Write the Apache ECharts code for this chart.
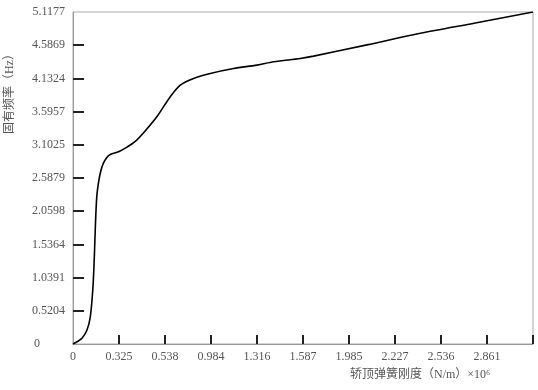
<!DOCTYPE html>
<html>
<head>
<meta charset="utf-8">
<script src="https://cdn.jsdelivr.net/npm/echarts@6/dist/echarts.min.js"></script>
<style>
html,body{margin:0;padding:0;background:#fff;}
#chart{width:538px;height:390px;}
</style>
</head>
<body>
<div id="chart"></div>
<script>
// Tick labels (axes are evenly spaced positions 0..10 with these labels)
var xTickLabels = ['0', '0.325', '0.538', '0.984', '1.316', '1.587', '1.985', '2.227', '2.536', '2.861'];
var yTickLabels = ['0', '0.5204', '1.0391', '1.5364', '2.0598', '2.5879', '3.1025', '3.5957', '4.1324', '4.5869', '5.1177'];

// Curve, in tick-position units (0..10 on each axis)
var curveX = [0, 0.115, 0.196, 0.304, 0.376, 0.430, 0.457, 0.476, 0.496, 0.520, 0.557, 0.604, 0.659, 0.735, 0.811, 0.991, 1.174, 1.354, 1.535, 1.826, 2.115, 2.333, 2.622, 2.985, 3.491, 4.0, 4.361, 4.941, 5.23, 6.39, 7.55, 8.745, 10];
var curveY = [0, 0.09, 0.17, 0.42, 0.82, 1.63, 2.38, 3.13, 3.89, 4.49, 4.88, 5.21, 5.44, 5.62, 5.71, 5.79, 5.93, 6.10, 6.36, 6.85, 7.45, 7.80, 8.00, 8.15, 8.30, 8.40, 8.50, 8.60, 8.67, 9.01, 9.36, 9.67, 10];

var xAxisTitle = '轿顶弹簧刚度（N/m）×10⁶';
var yAxisTitle = '固有频率（Hz）';

var data = curveX.map(function (x, i) { return [x, curveY[i]]; });
var font = "'Liberation Serif', 'Noto Sans CJK SC', serif";

var chart = echarts.init(document.getElementById('chart'), null, {renderer: 'canvas'});
chart.setOption({
  animation: false,
  backgroundColor: '#fff',
  grid: {left: 73, right: 5, top: 12, bottom: 46, show: true, borderColor: '#aaa', borderWidth: 1},
  xAxis: {
    type: 'value', min: 0, max: 10, interval: 1,
    axisLine: {show: true, lineStyle: {color: '#999', width: 1}},
    axisTick: {show: true, inside: true, length: 9, customValues: [1,2,3,4,5,6,7,8,9,10], lineStyle: {color: '#222', width: 2}},
    splitLine: {show: false},
    axisLabel: {
      customValues: [0,1,2,3,4,5,6,7,8,9],
      margin: 7, color: '#555', fontSize: 12, fontFamily: font,
      formatter: function (v) { return xTickLabels[Math.round(v)] || ''; }
    }
  },
  yAxis: {
    type: 'value', min: 0, max: 10, interval: 1,
    axisLine: {show: true, lineStyle: {color: '#999', width: 1}},
    axisTick: {show: true, inside: true, length: 11, customValues: [1,2,3,4,5,6,7,8,9], lineStyle: {color: '#222', width: 2}},
    splitLine: {show: false},
    axisLabel: {
      customValues: [0,1,2,3,4,5,6,7,8,9,10],
      margin: 8, color: '#555', fontSize: 12, fontFamily: font,
      formatter: function (v) {
        var i = Math.round(v);
        return i === 0 ? '{z|' + yTickLabels[0] + '}' : yTickLabels[i];
      },
      rich: {z: {color: '#555', fontSize: 12, fontFamily: font, padding: [0, 25, 0, 0]}}
    }
  },
  graphic: [
    {type: 'text', left: 350, top: 369, style: {text: xAxisTitle, fill: '#555', font: "12px 'Liberation Serif', 'Noto Sans CJK SC', serif"}},
    {type: 'text', x: 10, y: 134, rotation: Math.PI / 2, originX: 0, originY: 0,
     style: {text: yAxisTitle, fill: '#555', font: "12px 'Liberation Serif', 'Noto Sans CJK SC', serif", align: 'left', verticalAlign: 'middle'}}
  ],
  series: [{
    type: 'line', data: data, symbol: 'none', smooth: 0.3,
    lineStyle: {color: '#000', width: 1.6}
  }]
});
</script>
</body>
</html>
